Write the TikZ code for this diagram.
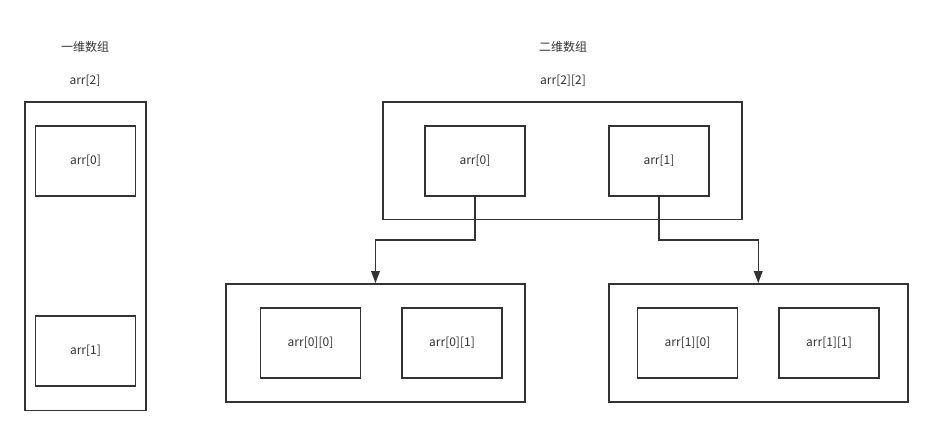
\documentclass[tikz,border=0pt]{standalone}
\usepackage{fontspec}
\setmainfont{Noto Sans CJK SC}
\usetikzlibrary{arrows.meta}
\definecolor{ln}{HTML}{333333}
\definecolor{tx}{HTML}{333333}
\tikzset{
  box/.style={draw=ln, line width=1.4pt, fill=none},
  lbl/.style={text=tx, font=\fontsize{9}{10}\selectfont, inner sep=0pt},
  conn/.style={draw=ln, line width=1.1pt, -{Triangle[length=9pt,width=6.5pt]}},
}
\begin{document}
\begin{tikzpicture}[x=0.75pt,y=-0.75pt]
\useasboundingbox (0,0) rectangle (932,436);
% one-dimensional
\node[lbl] (t1) at (85,47) {一维数组};
\node[lbl] (t2) at (85,81) {arr[2]};
\draw[box] (25,102) rectangle (146,410.5);
\draw[box] (35.5,126) rectangle (135.5,196);
\node[lbl] (a0) at (85.5,161) {arr[0]};
\draw[box] (35.5,316) rectangle (135.5,386);
\node[lbl] (a1) at (85.5,351) {arr[1]};
% two-dimensional
\node[lbl] (t3) at (563,47) {二维数组};
\node[lbl] (t4) at (563,81) {arr[2][2]};
\draw[box] (383,102) rectangle (742,219.5);
\node[box, minimum width=75pt, minimum height=52.5pt, inner sep=0pt] (b0) at (475,161) {};
\node[lbl] at (b0) {arr[0]};
\node[box, minimum width=75pt, minimum height=52.5pt, inner sep=0pt] (b1) at (659,161) {};
\node[lbl] at (b1) {arr[1]};
% bottom left
\node[box, minimum width=224.25pt, minimum height=88.5pt, inner sep=0pt] (g0) at (375.75,343) {};
\node[box, minimum width=75pt, minimum height=52.5pt, inner sep=0pt] (c00) at (310.5,343) {};
\node[lbl] at (c00) {arr[0][0]};
\node[box, minimum width=75pt, minimum height=52.5pt, inner sep=0pt] (c01) at (452,343) {};
\node[lbl] at (c01) {arr[0][1]};
% bottom right
\node[box, minimum width=224.25pt, minimum height=88.5pt, inner sep=0pt] (g1) at (758.25,343) {};
\node[box, minimum width=75pt, minimum height=52.5pt, inner sep=0pt] (c10) at (687.5,343) {};
\node[lbl] at (c10) {arr[1][0]};
\node[box, minimum width=75pt, minimum height=52.5pt, inner sep=0pt] (c11) at (829,343) {};
\node[lbl] at (c11) {arr[1][1]};
% connectors
\draw[conn] (b0.south) -- (475,240) -- (375.5,240) -- (g0.north -| 375.5,0);
\draw[conn] (b1.south) -- (659,240) -- (758.25,240) -- (g1.north);
\end{tikzpicture}
\end{document}
